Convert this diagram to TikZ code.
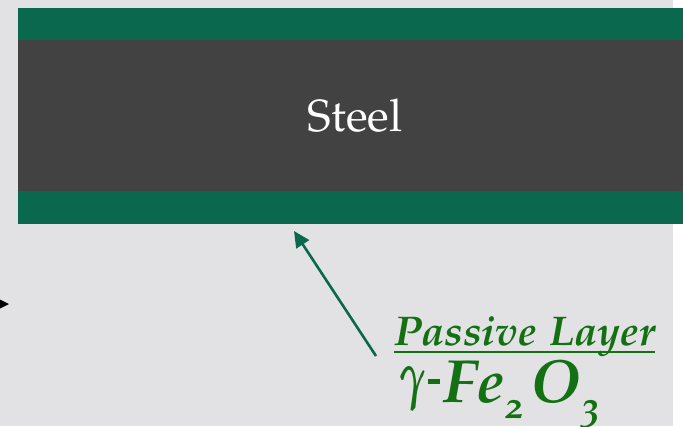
\documentclass[tikz,border=0pt]{standalone}
\usepackage[T1]{fontenc}
\usepackage[osf]{mathpazo}
\usetikzlibrary{arrows.meta}
\definecolor{bg}{HTML}{E2E2E4}
\definecolor{band}{HTML}{0A684E}
\definecolor{steel}{HTML}{424242}
\definecolor{lbl}{HTML}{137013}
\newcommand{\lowsub}[1]{\raisebox{-16pt}{\fontsize{38}{40}\selectfont #1}}
\newcommand{\gammasym}{\raisebox{6pt}{\scalebox{0.7}[1.05]{\boldmath$\gamma$}}}
\newcommand{\shorthyph}{\kern1pt\rule[18pt]{12pt}{5pt}\kern4pt}
\newcommand{\bigfont}{\fontsize{61}{68}\selectfont\bfseries\itshape}
\newcommand{\midfont}{\fontsize{41.5}{46}\selectfont\bfseries\itshape}
\newcommand{\steelfont}{\fontsize{45}{50}\selectfont}
\tikzset{
  pointer/.style={draw=band, line width=2.6pt, -{Triangle[length=16pt,width=15pt]}},
  lbltext/.style={text=lbl, inner sep=0pt, anchor=base west},
  uline/.style={draw=lbl, line width=2.4pt}
}
\begin{document}
\begin{tikzpicture}[x=1pt,y=-1pt]
\useasboundingbox (0,0) rectangle (683,426);
\fill[white] (0,0) rectangle (683,426);
\fill[bg] (0,0) rectangle (673,426);
\fill[band] (18,8) rectangle (683,40);
\fill[steel] (18,40) rectangle (683,191);
\fill[band] (18,191) rectangle (683,224);
\node[text=white, inner sep=0pt, font=\steelfont] (steel) at (355,116) {Steel};
\fill[black] (-5,297) -- (9,304) -- (-5,311) -- cycle;
\node[lbltext, font=\midfont] (pl) at (394,345) {Passive Layer};
\draw[uline] ([yshift=-7pt]pl.base west) -- ([yshift=-7pt]pl.base east);
\node[lbltext, font=\bigfont] (fe) at (399,402) {\gammasym\shorthyph Fe\lowsub{2}\kern7pt O\lowsub{3}};
\coordinate (tail) at (376,356);
\coordinate (tip) at (294,231);
\draw[pointer] (tail) -- (tip);
\end{tikzpicture}
\end{document}
